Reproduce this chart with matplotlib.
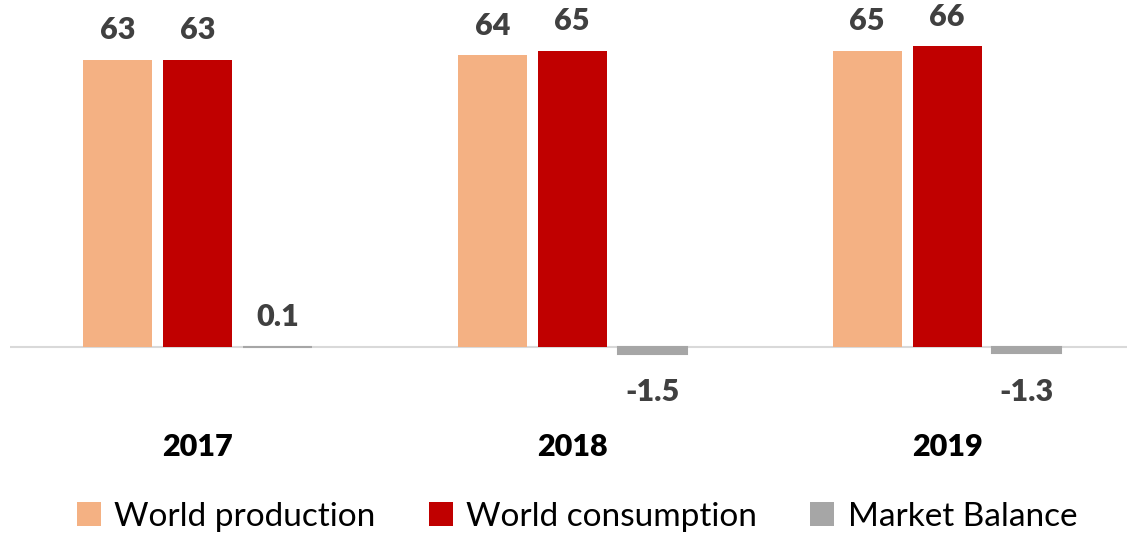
import numpy as np
import matplotlib.pyplot as plt
from matplotlib.patches import Patch

years = ["2017", "2018", "2019"]
production = [63, 64, 65]
consumption = [63, 65, 66]
balance = [0.1, -1.5, -1.3]
series_names = ["World production", "World consumption", "Market Balance"]
colors = ["#F4B183", "#C00000", "#A6A6A6"]

plt.rcParams['font.family'] = ['Lato', 'DejaVu Sans']

fig = plt.figure(figsize=(11.27, 5.33), dpi=100)
# axes placed in pixel terms: x 10..1127, y top 0..400 (from top)
ax = fig.add_axes([10 / 1127, 1 - 400 / 533, 1117 / 1127, 400 / 533])

x = np.arange(len(years))
step = 0.213
width = 0.184
for i, vals in enumerate([production, consumption, balance]):
    pos = x + (i - 1) * step
    ax.bar(pos, vals, width=width, color=colors[i], edgecolor=colors[i],
           linewidth=1.5 if i == 2 else 0, zorder=2)
    for p, v in zip(pos, vals):
        if v >= 0:
            ax.annotate(str(v), (p, v), xytext=(0, 11), textcoords="offset points",
                        ha="center", va="bottom", fontsize=22, fontweight="heavy",
                        color="#404040")
        else:
            ax.annotate(str(v), (p, 0), xytext=(0, -22), textcoords="offset points",
                        ha="center", va="top", fontsize=22, fontweight="heavy",
                        color="#404040")

ax.set_xlim(-0.5, 2.48)
ax.set_ylim(-(400 - 347) / 4.56, 347 / 4.56)
ax.axhline(0, color="#D9D9D9", linewidth=1.5, zorder=1)
ax.axis("off")

for xi, yr in zip(x, years):
    ax.annotate(yr, (xi, 0), xytext=(0, -72), textcoords="offset points",
                ha="center", va="center", fontsize=22, fontweight="heavy", color="black")

handles = [Patch(facecolor=c, edgecolor="none") for c in colors]
fig.legend(handles, series_names, loc="center", bbox_to_anchor=(0.512, 0.03),
           ncol=3, frameon=False, fontsize=24, handlelength=0.72, handleheight=0.72,
           handletextpad=0.4, columnspacing=1.6)

fig.savefig("out.png", dpi=100)
